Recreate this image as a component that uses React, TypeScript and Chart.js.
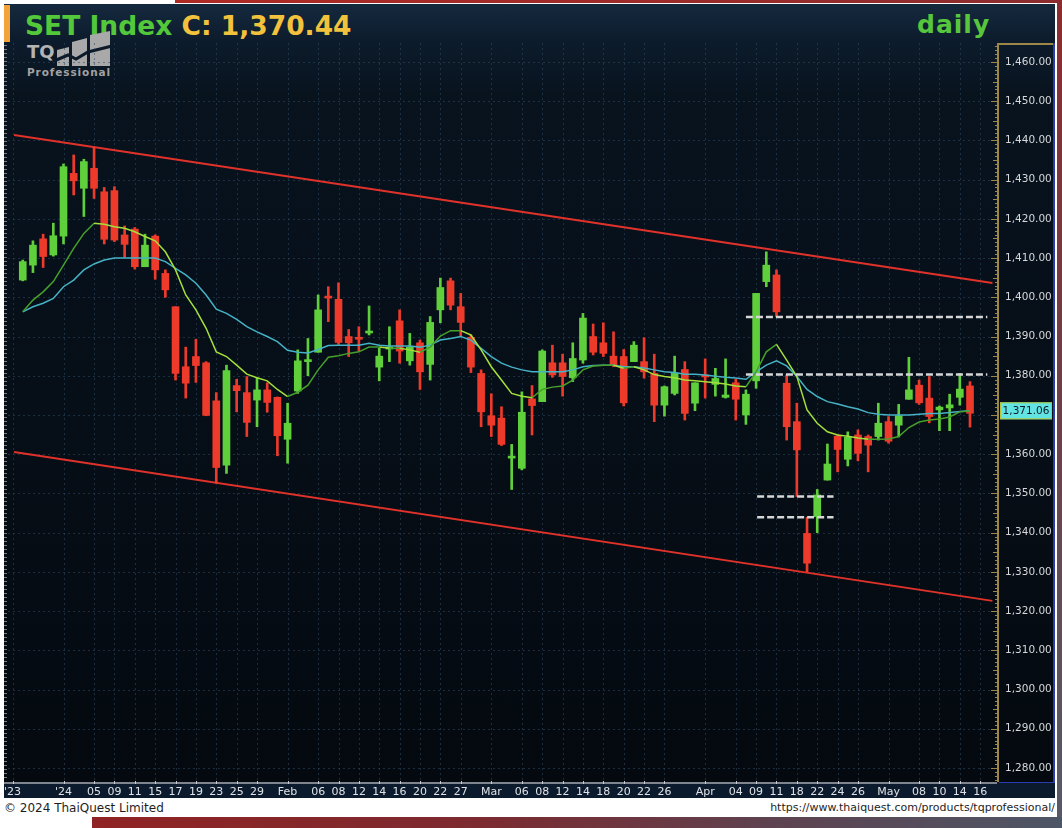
import { useEffect, useRef } from 'react';
import { Chart, registerables } from 'chart.js';

Chart.register(...registerables);

// Daily sessions shown on the chart
const tradeDates = [
  '2023-12-25', '2023-12-26', '2023-12-27', '2023-12-28',
  '2024-01-02', '2024-01-03', '2024-01-04', '2024-01-05', '2024-01-08', '2024-01-09', '2024-01-10', '2024-01-11',
  '2024-01-12', '2024-01-15', '2024-01-16', '2024-01-17', '2024-01-18', '2024-01-19', '2024-01-22', '2024-01-23',
  '2024-01-24', '2024-01-25', '2024-01-26', '2024-01-29', '2024-01-30', '2024-01-31',
  '2024-02-01', '2024-02-02', '2024-02-05', '2024-02-06', '2024-02-07', '2024-02-08', '2024-02-09', '2024-02-12',
  '2024-02-13', '2024-02-14', '2024-02-15', '2024-02-16', '2024-02-19', '2024-02-20', '2024-02-21', '2024-02-22',
  '2024-02-23', '2024-02-27', '2024-02-28', '2024-02-29',
  '2024-03-01', '2024-03-04', '2024-03-05', '2024-03-06', '2024-03-07', '2024-03-08', '2024-03-11', '2024-03-12',
  '2024-03-13', '2024-03-14', '2024-03-15', '2024-03-18', '2024-03-19', '2024-03-20', '2024-03-21', '2024-03-22',
  '2024-03-25', '2024-03-26', '2024-03-27', '2024-03-28', '2024-03-29',
  '2024-04-01', '2024-04-02', '2024-04-03', '2024-04-04', '2024-04-05', '2024-04-09', '2024-04-10', '2024-04-11',
  '2024-04-17', '2024-04-18', '2024-04-19', '2024-04-22', '2024-04-23', '2024-04-24', '2024-04-25', '2024-04-26',
  '2024-04-29', '2024-04-30',
  '2024-05-02', '2024-05-03', '2024-05-07', '2024-05-08', '2024-05-09', '2024-05-10', '2024-05-13', '2024-05-14',
  '2024-05-15',
];

const openPx = [
  1404.4, 1408.2, 1414.9, 1410.8, 1415.6, 1431.6, 1427.8, 1432.9, 1426.9, 1427.2,
  1415.9, 1417.4, 1407.8, 1415.6, 1406.1, 1397.6, 1382.3, 1384.9, 1383.3, 1373.6,
  1357.2, 1377.5, 1375.7, 1373.8, 1376.4, 1374.5, 1363.8, 1376.1, 1383.6, 1386.0,
  1400.0, 1399.5, 1390.0, 1389.5, 1390.9, 1382.2, 1386.8, 1394.0, 1383.8, 1388.4,
  1382.9, 1396.8, 1404.2, 1397.6, 1389.8, 1380.6, 1369.8, 1369.2, 1359.0, 1356.4,
  1374.1, 1373.4, 1383.3, 1383.3, 1379.5, 1384.0, 1390.0, 1388.4, 1385.0, 1384.9,
  1383.6, 1383.6, 1380.6, 1372.5, 1375.5, 1381.6, 1373.0, 1380.0, 1377.8, 1374.5,
  1378.2, 1370.0, 1378.7, 1404.0, 1405.7, 1378.1, 1368.3, 1339.8, 1344.1, 1353.4,
  1364.6, 1358.7, 1364.9, 1364.5, 1364.5, 1368.3, 1367.4, 1374.0, 1377.6, 1374.3,
  1371.3, 1371.8, 1374.5, 1377.4,
];

const highPx = [
  1409.5, 1414.4, 1416.1, 1418.9, 1434.0, 1436.3, 1435.2, 1438.3, 1428.0, 1428.2,
  1418.2, 1417.8, 1416.1, 1415.9, 1407.0, 1397.6, 1387.3, 1389.3, 1383.6, 1375.7,
  1382.7, 1379.1, 1379.8, 1379.5, 1378.2, 1374.6, 1373.0, 1386.6, 1389.5, 1400.6,
  1402.7, 1403.7, 1391.8, 1392.5, 1397.8, 1387.0, 1392.5, 1396.8, 1390.8, 1389.1,
  1395.1, 1404.9, 1404.9, 1401.0, 1390.4, 1381.5, 1375.4, 1372.1, 1362.5, 1375.9,
  1377.5, 1386.6, 1387.8, 1385.5, 1388.4, 1395.9, 1393.2, 1393.5, 1391.2, 1386.7,
  1388.7, 1389.7, 1385.5, 1377.4, 1385.0, 1383.6, 1378.2, 1384.3, 1381.9, 1384.3,
  1379.1, 1376.4, 1401.0, 1411.6, 1407.0, 1380.2, 1373.0, 1343.9, 1351.0, 1362.6,
  1365.0, 1365.7, 1366.2, 1364.9, 1373.0, 1369.6, 1372.7, 1384.7, 1378.9, 1379.8,
  1372.3, 1375.3, 1380.6, 1378.5,
];

const lowPx = [
  1404.2, 1406.3, 1407.6, 1410.5, 1413.6, 1426.1, 1420.6, 1425.2, 1413.6, 1414.2,
  1410.2, 1407.2, 1407.8, 1404.6, 1400.0, 1378.9, 1374.3, 1378.3, 1369.8, 1352.6,
  1355.1, 1370.8, 1364.5, 1367.0, 1370.7, 1359.6, 1357.7, 1375.5, 1380.0, 1386.0,
  1393.8, 1388.0, 1384.9, 1386.4, 1390.4, 1378.7, 1383.6, 1383.2, 1382.7, 1376.5,
  1378.9, 1393.5, 1396.8, 1390.0, 1380.8, 1367.0, 1364.5, 1362.2, 1351.0, 1356.0,
  1364.9, 1373.4, 1379.6, 1374.8, 1378.5, 1383.2, 1385.3, 1384.9, 1382.3, 1372.3,
  1383.6, 1379.4, 1368.3, 1369.7, 1375.1, 1368.7, 1371.1, 1374.3, 1374.8, 1374.3,
  1368.7, 1367.6, 1376.8, 1402.7, 1395.1, 1363.6, 1349.2, 1330.0, 1340.0, 1353.4,
  1355.5, 1357.0, 1358.3, 1355.5, 1363.6, 1362.8, 1364.4, 1374.0, 1372.7, 1368.0,
  1366.0, 1366.0, 1372.5, 1366.9,
];

const closePx = [
  1409.1, 1413.3, 1410.4, 1415.7, 1433.3, 1429.7, 1434.6, 1427.8, 1414.8, 1414.6,
  1413.5, 1407.8, 1413.3, 1407.0, 1401.9, 1380.6, 1378.1, 1382.6, 1369.9, 1356.6,
  1381.3, 1376.2, 1368.1, 1376.4, 1373.2, 1364.7, 1367.9, 1383.8, 1383.9, 1396.8,
  1399.8, 1388.5, 1388.4, 1389.3, 1391.4, 1385.0, 1387.1, 1386.3, 1387.3, 1381.0,
  1393.6, 1402.5, 1398.0, 1393.6, 1382.2, 1370.8, 1367.4, 1362.5, 1359.3, 1370.7,
  1372.4, 1386.3, 1380.2, 1379.8, 1384.4, 1394.7, 1386.0, 1385.7, 1382.7, 1373.1,
  1387.8, 1381.0, 1372.5, 1377.2, 1380.6, 1370.4, 1378.2, 1379.7, 1379.3, 1375.1,
  1374.0, 1375.3, 1401.0, 1408.2, 1396.3, 1367.0, 1361.1, 1332.2, 1349.6, 1357.5,
  1361.2, 1364.3, 1360.2, 1362.3, 1367.9, 1363.3, 1369.8, 1376.4, 1373.1, 1369.6,
  1372.0, 1372.6, 1376.6, 1370.44,
];

// Short moving average (green)
const maFast = [
  1396.3, 1399.3, 1401.4, 1404.0, 1408.2, 1412.5, 1416.3, 1418.9, 1418.6, 1418.0,
  1417.6, 1416.7, 1415.5, 1414.4, 1411.6, 1407.0, 1400.6, 1396.8, 1392.1, 1386.1,
  1384.9, 1382.7, 1380.4, 1379.5, 1378.7, 1376.5, 1374.7, 1375.8, 1377.6, 1381.5,
  1384.7, 1385.1, 1385.7, 1386.1, 1387.3, 1387.3, 1387.0, 1387.0, 1386.6, 1386.0,
  1387.3, 1390.1, 1391.5, 1391.5, 1390.4, 1386.6, 1382.3, 1378.9, 1375.5, 1374.8,
  1374.4, 1376.5, 1377.1, 1377.4, 1378.9, 1381.5, 1382.5, 1382.7, 1382.7, 1381.9,
  1382.3, 1381.5, 1380.3, 1379.8, 1379.5, 1378.9, 1378.7, 1378.5, 1378.2, 1377.9,
  1377.4, 1377.2, 1381.0, 1386.1, 1388.0, 1384.0, 1379.8, 1371.3, 1367.9, 1365.7,
  1364.9, 1364.6, 1364.1, 1363.8, 1363.8, 1363.9, 1364.5, 1366.8, 1368.2, 1368.7,
  1369.0, 1369.5, 1370.8, 1371.0,
];

// Longer moving average (cyan)
const maSlow = [
  1396.3, 1397.6, 1398.5, 1399.7, 1402.7, 1404.4, 1407.0, 1408.5, 1409.5, 1410.0,
  1410.0, 1410.0, 1410.0, 1410.0, 1409.1, 1407.4, 1405.7, 1403.6, 1400.6, 1397.0,
  1395.9, 1394.4, 1392.5, 1391.2, 1390.0, 1388.7, 1386.5, 1386.0, 1385.8, 1386.7,
  1387.7, 1387.8, 1387.8, 1387.8, 1388.3, 1387.8, 1387.6, 1387.6, 1387.6, 1387.3,
  1387.8, 1389.1, 1389.5, 1390.0, 1389.1, 1387.0, 1384.9, 1383.2, 1382.2, 1381.5,
  1381.0, 1381.0, 1381.0, 1381.0, 1381.5, 1382.3, 1382.6, 1382.7, 1382.7, 1382.3,
  1382.3, 1382.0, 1381.5, 1381.0, 1380.8, 1380.4, 1380.4, 1380.2, 1379.9, 1379.6,
  1379.4, 1379.1, 1381.0, 1382.7, 1383.8, 1382.5, 1379.8, 1376.5, 1374.7, 1373.4,
  1372.8, 1372.1, 1371.5, 1370.6, 1370.2, 1370.0, 1370.0, 1370.0, 1370.2, 1370.4,
  1370.4, 1370.6, 1370.9, 1371.06,
];

// Date axis: label text and the session slot it sits on
const axisLabels = [
  "'23", "'24", '05', '09', '11', '15', '17', '19', '23', '25', '29', 'Feb', '06', '08', '12', '14', '16', '20', '22',
  '27', 'Mar', '06', '08', '12', '14', '18', '20', '22', '26', 'Apr', '04', '09', '11', '18', '22', '24', '26', 'May',
  '08', '10', '14', '16',
];
const axisSlots = [
  -1, 4, 7, 9, 11, 13, 15, 17, 19, 21, 23, 26, 29, 31, 33, 35, 37, 39, 41,
  43, 46, 49, 51, 53, 55, 57, 59, 61, 63, 67, 70, 72, 74, 76, 78, 80, 82, 85,
  88, 90, 92, 94,
];

const priceTicks = [
  1280, 1290, 1300, 1310, 1320, 1330, 1340, 1350, 1360, 1370,
  1380, 1390, 1400, 1410, 1420, 1430, 1440, 1450, 1460,
];

// Trend channel (slot, price)
const channelUpper = [[-0.86, 1441.4], [95.2, 1403.65]];
const channelLower = [[-0.86, 1360.56], [95.2, 1322.6]];

// Horizontal price levels: [from slot, to slot, price]
const priceLevels = [
  [71.0, 94.7, 1395.0],
  [71.0, 94.7, 1380.3],
  [72.1, 79.6, 1349.2],
  [72.1, 79.6, 1343.9],
];

const X_MIN = -1.449;
const X_MAX = 95.65;
const Y_MIN = 1276.42;
const Y_MAX = 1464.84;

const UP = '#5fd03c';
const DOWN = '#ee3a2a';
const UI_FONT = '"DejaVu Sans", Verdana, sans-serif';

const fmtPrice = (v: number) =>
  v.toLocaleString('en-US', { minimumFractionDigits: 2, maximumFractionDigits: 2 });

// keep the plot area exactly where the axes were sized, without label overhang padding
const noOverhang = (s: any) => {
  s.paddingTop = 0;
  s.paddingBottom = 0;
  s.paddingLeft = 0;
  s.paddingRight = 0;
};

const decorations = {
  id: 'tqDecorations',
  beforeDraw(chart: any) {
    const { ctx, chartArea: a, width, height } = chart;
    ctx.save();
    ctx.fillStyle = '#0b1a2c';
    ctx.fillRect(4, a.bottom, width - 4, height - a.bottom - 1);
    ctx.restore();
  },
  beforeDatasetsDraw(chart: any) {
    const { ctx, chartArea: a, scales } = chart;
    const xs = scales.x;
    const ys = scales.y;
    ctx.save();
    ctx.strokeStyle = 'rgba(48, 74, 100, 0.55)';
    ctx.lineWidth = 1;
    ctx.setLineDash([2, 3]);
    axisSlots.forEach((s) => {
      const px = Math.round(xs.getPixelForValue(s)) + 0.5;
      if (px < a.left || px > a.right) return;
      ctx.beginPath();
      ctx.moveTo(px, a.top);
      ctx.lineTo(px, a.bottom);
      ctx.stroke();
    });
    priceTicks.forEach((p) => {
      const py = Math.round(ys.getPixelForValue(p)) + 0.5;
      ctx.beginPath();
      ctx.moveTo(a.left, py);
      ctx.lineTo(a.right, py);
      ctx.stroke();
    });
    ctx.restore();
  },
  afterDraw(chart: any) {
    const { ctx, chartArea: a, scales, width } = chart;
    const xs = scales.x;
    const ys = scales.y;
    ctx.save();

    // left ruler strip
    ctx.fillStyle = '#7c7f84';
    for (let y = 2; y < a.bottom - 2; y += 4) ctx.fillRect(4, y, 3, 1);

    // date axis rule with small notches
    ctx.fillStyle = '#7e858e';
    ctx.fillRect(4, a.bottom, a.right - 4, 2);
    ctx.fillStyle = '#c8ccd0';
    axisSlots.forEach((s) => {
      const px = Math.round(xs.getPixelForValue(s));
      if (px < 4 || px > a.right) return;
      ctx.fillRect(px, a.bottom - 1, 1, 3);
    });

    // price axis frame
    ctx.fillStyle = '#9c8648';
    ctx.fillRect(a.right, 0, 2, a.bottom);
    ctx.fillRect(a.right, 0, width - a.right, 2);
    for (let p = Math.ceil(Y_MIN); p <= Math.floor(Y_MAX); p++) {
      const len = p % 10 === 0 ? 6 : p % 5 === 0 ? 4 : 2;
      const py = Math.round(ys.getPixelForValue(p));
      ctx.fillRect(a.right - len, py, len, 1);
    }
    ctx.fillStyle = '#2a3cb0';
    ctx.fillRect(width - 2, 0, 2, a.bottom + 1);
    ctx.fillRect(a.right + 2, a.bottom, width - a.right - 2, 1);

    // last value tag of the long average
    const last = maSlow[maSlow.length - 1];
    const ty = ys.getPixelForValue(last);
    ctx.fillStyle = '#62e4e4';
    ctx.fillRect(a.right + 3, ty - 8.5, 52, 17);
    ctx.strokeStyle = '#b4c43c';
    ctx.lineWidth = 1;
    ctx.strokeRect(a.right + 3.5, ty - 8, 51, 16);
    ctx.fillStyle = '#0c1a24';
    ctx.font = `10.5px ${UI_FONT}`;
    ctx.textAlign = 'center';
    ctx.textBaseline = 'middle';
    ctx.fillText(fmtPrice(last), a.right + 29, ty + 0.5);

    ctx.restore();
  },
};

export default function App() {
  const canvasRef = useRef<HTMLCanvasElement | null>(null);

  useEffect(() => {
    document.body.style.margin = '0';
    const canvas = canvasRef.current;
    if (!canvas) return;

    const slots = tradeDates.map((_, i) => i);
    const rising = (i: number) => closePx[i] >= openPx[i];
    const candleColors = slots.map((i) => (rising(i) ? UP : DOWN));

    const segLine = (pts: number[][], color: string, order: number, dash: number[] = [], w = 2) => ({
      type: 'line' as const,
      data: pts.map(([x, y]) => ({ x, y })),
      borderColor: color,
      borderWidth: w,
      borderDash: dash,
      pointRadius: 0,
      order,
    });

    const chart = new Chart(canvas, {
      type: 'bar',
      data: {
        datasets: [
          segLine(channelUpper, '#e0322a', 6),
          segLine(channelLower, '#e0322a', 6),
          {
            type: 'bar',
            data: slots.map((i) => ({ x: i, y: [lowPx[i], highPx[i]] })),
            backgroundColor: candleColors,
            barThickness: 2,
            grouped: false,
            borderWidth: 0,
            order: 5,
          } as any,
          {
            type: 'bar',
            data: slots.map((i) => ({ x: i, y: [openPx[i], closePx[i]] })),
            backgroundColor: candleColors,
            barThickness: 7,
            minBarLength: 2,
            grouped: false,
            borderWidth: 0,
            order: 4,
          } as any,
          {
            type: 'line',
            data: slots.map((i) => ({ x: i, y: maSlow[i] })),
            borderColor: '#46b2c6',
            borderWidth: 1.5,
            pointRadius: 0,
            order: 3,
          } as any,
          {
            type: 'line',
            data: slots.map((i) => ({ x: i, y: maFast[i] })),
            borderColor: '#4aa42a',
            borderWidth: 1.5,
            pointRadius: 0,
            segment: {
              borderColor: (c: any) => (c.p1.parsed.y < c.p0.parsed.y ? '#a4e03c' : '#46a02a'),
            },
            order: 2,
          } as any,
          ...priceLevels.map(([from, to, p]) =>
            segLine([[from, p], [to, p]], '#d4d6d8', 1, [7, 3], 2.5)
          ),
        ] as any,
      },
      options: {
        animation: false,
        responsive: false,
        devicePixelRatio: 1,
        layout: { padding: { left: 8, right: 0, top: 0, bottom: 0 } },
        plugins: { legend: { display: false }, tooltip: { enabled: false } },
        scales: {
          x: {
            type: 'linear',
            min: X_MIN,
            max: X_MAX,
            offset: false,
            grid: { display: false, drawTicks: false },
            border: { display: false },
            afterBuildTicks: (s: any) => {
              s.ticks = axisSlots.map((v) => ({ value: v }));
            },
            afterFit: (s: any) => {
              s.height = 17;
              noOverhang(s);
            },
            ticks: {
              autoSkip: false,
              maxRotation: 0,
              minRotation: 0,
              padding: 4,
              color: '#dfe2e6',
              font: { family: UI_FONT, size: 11 },
              callback: (_v: any, idx: number) => axisLabels[idx],
            },
          },
          y: {
            type: 'linear',
            position: 'right',
            min: Y_MIN,
            max: Y_MAX,
            grid: { display: false, drawTicks: false },
            border: { display: false },
            afterBuildTicks: (s: any) => {
              s.ticks = priceTicks.map((v) => ({ value: v }));
            },
            afterFit: (s: any) => {
              s.width = 58;
              noOverhang(s);
            },
            ticks: {
              padding: 8,
              color: '#d6d8da',
              font: { family: UI_FONT, size: 10.5 },
              callback: (v: any) => fmtPrice(Number(v)),
            },
          },
        },
      } as any,
      plugins: [decorations],
    });

    return () => chart.destroy();
  }, []);

  const lastClose = closePx[closePx.length - 1];

  return (
    <div
      style={{
        position: 'relative',
        width: 1062,
        height: 828,
        overflow: 'hidden',
        background: '#ffffff',
        fontFamily: UI_FONT,
      }}
    >
      <div style={{ position: 'absolute', left: 175, top: 0, width: 887, height: 3, background: 'linear-gradient(90deg,#b02a24,#8c2c2e)' }} />
      <div style={{ position: 'absolute', left: 1057, top: 0, width: 5, height: 828, background: 'linear-gradient(180deg,#8c2c2e,#6a4048 50%,#565a68)' }} />
      <div style={{ position: 'absolute', left: 92, top: 817, width: 970, height: 11, background: 'linear-gradient(90deg,#902323 0%,#7c2a30 40%,#5e4250 70%,#4d5666 100%)' }} />

      <div
        style={{
          position: 'absolute',
          left: 4,
          top: 4,
          width: 1051,
          height: 794,
          background:
            'linear-gradient(180deg,#15293e 0px,#0c1b2b 39px,#08131e 90px,#060e17 400px,#04090f 794px)',
        }}
      />
      <div style={{ position: 'absolute', left: 4, top: 5, width: 6, height: 37, background: '#f2a33a' }} />

      <div
        style={{
          position: 'absolute',
          left: 25,
          top: 13,
          fontFamily: UI_FONT,
          fontWeight: 'bold',
          fontSize: 26.5,
          lineHeight: '26px',
          whiteSpace: 'nowrap',
        }}
      >
        <span style={{ color: '#52c83a' }}>SET Index </span>
        <span style={{ color: '#f2c23c' }}>C: {fmtPrice(lastClose)}</span>
      </div>
      <div
        style={{
          position: 'absolute',
          left: 917,
          top: 12,
          fontFamily: UI_FONT,
          fontWeight: 'bold',
          fontSize: 25,
          lineHeight: '25px',
          letterSpacing: 1,
          color: '#58c63c',
        }}
      >
        daily
      </div>

      {/* TQ Professional mark */}
      <div
        style={{
          position: 'absolute',
          left: 27,
          top: 43,
          fontFamily: UI_FONT,
          fontWeight: 'bold',
          fontSize: 18,
          lineHeight: '18px',
          color: '#b4b4b4',
        }}
      >
        TQ
      </div>
      <svg style={{ position: 'absolute', left: 54, top: 30, width: 60, height: 38 }} viewBox="0 0 60 38">
        <polygon points="3,20 15,17 15,36 3,36" fill="#a9a9a9" />
        <polygon points="18,12 33,8 33,36 18,36" fill="#a9a9a9" />
        <polygon points="36,5 56,1 56,36 36,36" fill="#a9a9a9" />
        <polyline points="0,31 14,25 22,29 34,22 58,16" fill="none" stroke="#0c1a29" strokeWidth="3" />
      </svg>
      <div
        style={{
          position: 'absolute',
          left: 27,
          top: 66,
          fontFamily: UI_FONT,
          fontWeight: 'bold',
          fontSize: 10.5,
          lineHeight: '12px',
          letterSpacing: 0.9,
          color: '#a2a2a2',
        }}
      >
        Professional
      </div>

      <canvas
        ref={canvasRef}
        width={1055}
        height={756}
        style={{ position: 'absolute', left: 0, top: 43, width: 1055, height: 756 }}
      />

      <div
        style={{
          position: 'absolute',
          left: 4,
          top: 801,
          fontFamily: UI_FONT,
          fontSize: 12,
          lineHeight: '14px',
          color: '#1e1e1e',
          whiteSpace: 'nowrap',
        }}
      >
        © 2024 ThaiQuest Limited
      </div>
      <div
        style={{
          position: 'absolute',
          right: 7,
          top: 801,
          fontFamily: UI_FONT,
          fontSize: 11,
          lineHeight: '14px',
          color: '#1e1e1e',
          whiteSpace: 'nowrap',
        }}
      >
        https://www.thaiquest.com/products/tqprofessional/
      </div>
    </div>
  );
}
